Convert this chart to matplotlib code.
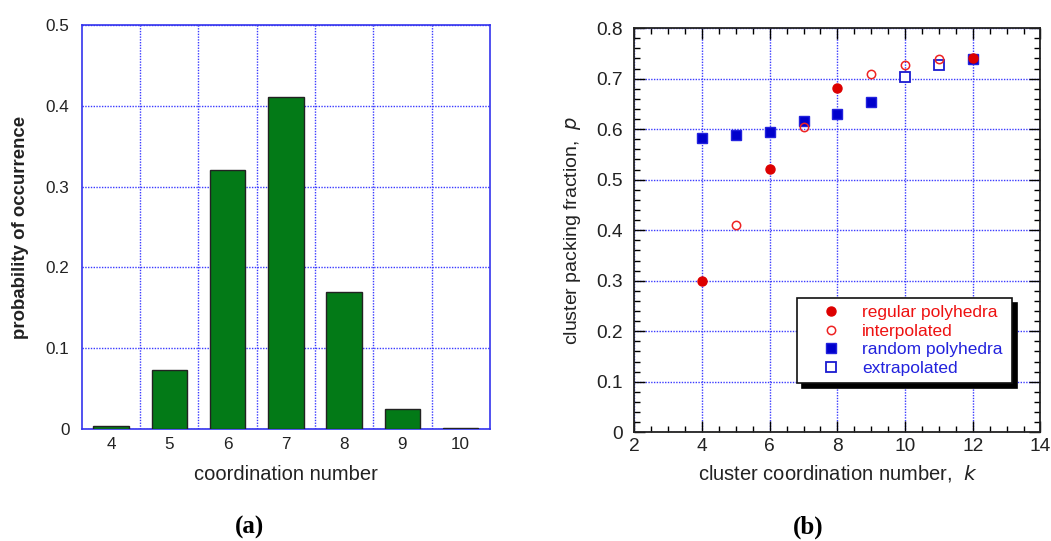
import matplotlib
matplotlib.use("Agg")
import matplotlib.pyplot as plt
from matplotlib.ticker import MultipleLocator, FixedLocator

plt.rcParams['font.family'] = ['Liberation Sans', 'DejaVu Sans']

# ---- data (a) ----
coord_numbers = [4, 5, 6, 7, 8, 9, 10]
probabilities = [0.004, 0.073, 0.321, 0.411, 0.170, 0.025, 0.0015]

# ---- data (b) ----
regular_k = [4, 6, 8, 12]
regular_p = [0.300, 0.521, 0.681, 0.740]
interp_k = [5, 7, 9, 10, 11]
interp_p = [0.410, 0.604, 0.710, 0.727, 0.738]
random_k = [4, 5, 6, 7, 8, 9, 12]
random_p = [0.583, 0.589, 0.594, 0.617, 0.631, 0.653, 0.738]
extrap_k = [10, 11]
extrap_p = [0.704, 0.727]

fig = plt.figure(figsize=(10.51, 5.41), dpi=100)

grid_blue = '#3a3aff'
txt = '#222222'

# ---------------- (a) ----------------
ax1 = fig.add_axes([0.078, 0.207, 0.388, 0.747])
ax1.bar(coord_numbers, probabilities, width=0.61, color='#037a17',
        edgecolor='#222222', linewidth=1.0, zorder=3)
ax1.set_xlim(3.5, 10.5)
ax1.set_ylim(0, 0.5)
ax1.set_xticks(coord_numbers)
ax1.set_xticklabels([str(c) for c in coord_numbers])
ax1.xaxis.set_minor_locator(FixedLocator([4.5, 5.5, 6.5, 7.5, 8.5, 9.5]))
ax1.set_yticks([0, 0.1, 0.2, 0.3, 0.4, 0.5])
ax1.set_yticklabels(['0', '0.1', '0.2', '0.3', '0.4', '0.5'])
ax1.tick_params(axis='both', which='both', length=0, labelsize=12.3,
                labelcolor=txt)
ax1.tick_params(axis='x', pad=6)
ax1.tick_params(axis='y', pad=9)
ax1.grid(True, which='minor', axis='x', color=grid_blue, linestyle=(0, (1, 1)),
         linewidth=1.0, zorder=0)
ax1.grid(True, which='major', axis='y', color=grid_blue, linestyle=(0, (1, 1)),
         linewidth=1.0, zorder=0)
for s in ax1.spines.values():
    s.set_color('#3333ee')
    s.set_linewidth(1.2)
ax1.set_ylabel('probability of occurrence', fontsize=13.4, fontweight='bold',
               color=txt, labelpad=12)
ax1.set_xlabel('coordination number', fontsize=14.5, color=txt, labelpad=9)

# ---------------- (b) ----------------
ax2 = fig.add_axes([0.6035, 0.201, 0.3865, 0.747])
ax2.set_xlim(2, 14)
ax2.set_ylim(0, 0.8)
ax2.xaxis.set_minor_locator(MultipleLocator(0.5))
ax2.yaxis.set_minor_locator(MultipleLocator(0.02))
ax2.set_yticks([0, 0.1, 0.2, 0.3, 0.4, 0.5, 0.6, 0.7, 0.8])
ax2.set_yticklabels(['0', '0.1', '0.2', '0.3', '0.4', '0.5', '0.6', '0.7', '0.8'])
ax2.set_xticks([2, 4, 6, 8, 10, 12, 14])
ax2.set_xticklabels(['2', '4', '6', '8', '10', '12', '14'])
ax2.tick_params(axis='both', which='major', direction='in', length=8, width=1,
                top=True, right=True, labelsize=13.8, labelcolor=txt)
ax2.tick_params(axis='x', which='major', pad=4)
ax2.tick_params(axis='y', which='major', pad=8.5)
ax2.tick_params(axis='both', which='minor', direction='in', length=4, width=1,
                top=True, right=True)
ax2.grid(True, which='major', color=grid_blue, linestyle=(0, (1, 1)),
         linewidth=1.0, zorder=0)
for s in ax2.spines.values():
    s.set_color('#222222')
    s.set_linewidth(1.3)

ax2.plot(random_k, random_p, linestyle='none', marker='s', markersize=6.8,
         color='#0000cc', markeredgecolor='#2222dd', label='random polyhedra', zorder=3)
ax2.plot(extrap_k, extrap_p, linestyle='none', marker='s', markersize=6.5,
         markerfacecolor='white', markeredgecolor='#1a1ad0', markeredgewidth=1.3,
         label='extrapolated', zorder=3)
ax2.plot(interp_k, interp_p, linestyle='none', marker='o', markersize=6,
         markerfacecolor='none', markeredgecolor='#ee2222', markeredgewidth=1.1,
         label='interpolated', zorder=4)
ax2.plot(regular_k, regular_p, linestyle='none', marker='o', markersize=6.5,
         color='#dd0000', label='regular polyhedra', zorder=5)

handles, labels = ax2.get_legend_handles_labels()
order = [3, 2, 0, 1]
leg = ax2.legend([handles[i] for i in order], [labels[i] for i in order],
                 loc='upper left', bbox_to_anchor=(0.40, 0.332, 0.53, 0.0),
                 mode='expand', fontsize=12.5, frameon=True, fancybox=False,
                 framealpha=1, edgecolor='#111111',
                 shadow={'color': 'black', 'alpha': 1, 'ox': 3.5, 'oy': -3.5},
                 labelspacing=0.2, handletextpad=0.15, borderpad=0.4,
                 borderaxespad=0, handlelength=3.2)
leg.get_frame().set_linewidth(1.2)
text_colors = ['#ee1111', '#ee1111', '#2222dd', '#2222dd']
for t, c in zip(leg.get_texts(), text_colors):
    t.set_color(c)

ax2.set_ylabel('cluster packing fraction,  $\\it{p}$', fontsize=14, color=txt,
               labelpad=9)
ax2.set_xlabel('cluster coordination number,  $\\it{k}$', fontsize=14.5, color=txt,
               labelpad=6)

fig.text(249 / 1051, 1 - 527 / 541, '(a)', fontsize=18, fontweight='bold',
         family='Liberation Serif', ha='center', va='center')
fig.text(808 / 1051, 1 - 527 / 541, '(b)', fontsize=18, fontweight='bold',
         family='Liberation Serif', ha='center', va='center')

fig.savefig('out.png', dpi=100)
